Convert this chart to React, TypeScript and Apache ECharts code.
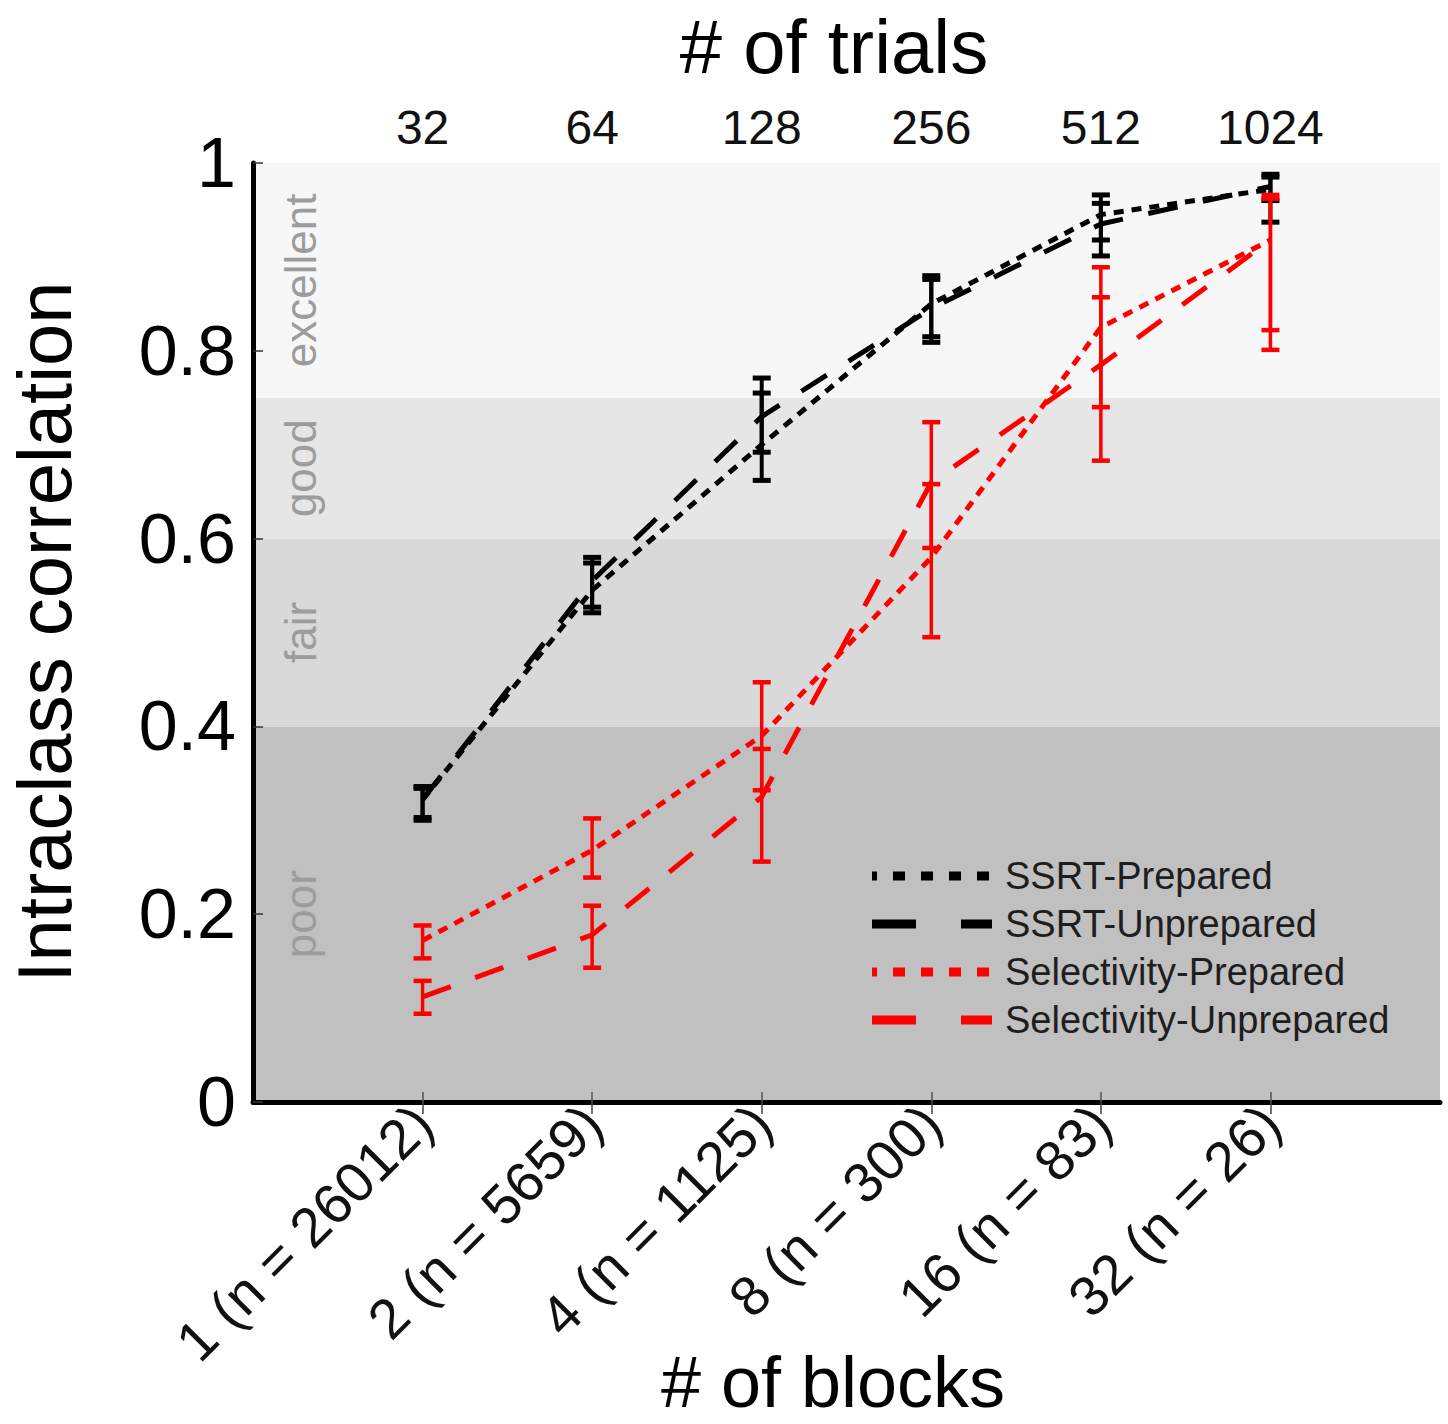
import React, { useEffect, useRef } from "react";
import * as echarts from "echarts";

const FONT = "'Liberation Sans', Arial, Helvetica, sans-serif";

// x positions of the six block conditions (value axis 0..7)
const xPositions = [1, 2, 3, 4, 5, 6];
const blockLabels = ["1 (n = 26012)", "2 (n = 5659)", "4 (n = 1125)", "8 (n = 300)", "16 (n = 83)", "32 (n = 26)"];
const trialLabels = ["32", "64", "128", "256", "512", "1024"];

// Reliability bands
const bandNames = ["poor", "fair", "good", "excellent"];
const bandLows = [0, 0.4, 0.6, 0.75];
const bandHighs = [0.4, 0.6, 0.75, 1];
const bandColors = ["#c0c0c0", "#d9d9d9", "#e6e6e6", "#f7f7f7"];

// Series values (ICC) and error-bar bounds
const ssrtPrepared = [0.322, 0.545, 0.700, 0.850, 0.945, 0.972];
const ssrtPreparedLow = [0.300, 0.521, 0.662, 0.809, 0.918, 0.960];
const ssrtPreparedHigh = [0.334, 0.574, 0.755, 0.876, 0.966, 0.988];

const ssrtUnprepared = [0.322, 0.555, 0.730, 0.845, 0.935, 0.975];
const ssrtUnpreparedLow = [0.303, 0.527, 0.692, 0.815, 0.901, 0.937];
const ssrtUnpreparedHigh = [0.336, 0.580, 0.771, 0.880, 0.957, 0.985];

const selPrepared = [0.172, 0.268, 0.390, 0.580, 0.825, 0.918];
const selPreparedLow = [0.153, 0.239, 0.332, 0.495, 0.740, 0.822];
const selPreparedHigh = [0.188, 0.302, 0.447, 0.658, 0.889, 0.966];

const selUnprepared = [0.112, 0.178, 0.325, 0.660, 0.785, 0.918];
const selUnpreparedLow = [0.094, 0.143, 0.256, 0.590, 0.683, 0.801];
const selUnpreparedHigh = [0.129, 0.209, 0.376, 0.724, 0.857, 0.962];

const seriesNames = ["SSRT-Prepared", "SSRT-Unprepared", "Selectivity-Prepared", "Selectivity-Unprepared"];
const seriesColors = ["#000000", "#000000", "#ff0000", "#ff0000"];

const DOTTED = [10, 8];
const DASHED = [30, 26];

function lineSeries(name: string, vals: number[], color: string, dash: number[], z: number) {
  return {
    type: "line",
    name,
    data: xPositions.map((x, i) => [x, vals[i]]),
    symbol: "none",
    z,
    lineStyle: { color, width: 5, type: dash, cap: "butt" },
    silent: true,
  };
}

function errorSeries(name: string, lo: number[], hi: number[], color: string, width: number, z: number) {
  return {
    type: "custom",
    name: name + " CI",
    z,
    silent: true,
    encode: { x: 0, y: [1, 2] },
    data: xPositions.map((x, i) => [x, lo[i], hi[i]]),
    renderItem: (params: any, api: any) => {
      const x = api.value(0);
      const pLo = api.coord([x, api.value(1)]);
      const pHi = api.coord([x, api.value(2)]);
      const hw = 9;
      const style = { stroke: color, lineWidth: width };
      return {
        type: "group",
        children: [
          { type: "line", shape: { x1: pLo[0], y1: pLo[1], x2: pHi[0], y2: pHi[1] }, style: { stroke: color, lineWidth: width - 1 } },
          { type: "line", shape: { x1: pLo[0] - hw, y1: pLo[1], x2: pLo[0] + hw, y2: pLo[1] }, style },
          { type: "line", shape: { x1: pHi[0] - hw, y1: pHi[1], x2: pHi[0] + hw, y2: pHi[1] }, style },
        ],
      };
    },
  };
}

const legendDashes = [[12, 16], [44, 45], [12, 16], [44, 45]];
const legendOffsets = [7, 0, 7, 0];

export default function App() {
  const ref = useRef<HTMLDivElement>(null);
  useEffect(() => {
    document.body.style.margin = "0";
    const chart = echarts.init(ref.current as HTMLDivElement, null, { renderer: "svg" });

    const legendGraphics: any[] = [];
    seriesNames.forEach((n, i) => {
      const y = 876 + i * 48;
      legendGraphics.push({
        type: "line",
        z: 100,
        shape: { x1: 872, y1: y, x2: 992, y2: y },
        style: { stroke: seriesColors[i], lineWidth: 9, lineDash: legendDashes[i], lineDashOffset: legendOffsets[i] },
      });
      legendGraphics.push({
        type: "text",
        z: 100,
        x: 1005,
        y,
        style: { text: n, font: `38px ${FONT}`, fill: "#1e1e1e", align: "left", verticalAlign: "middle" },
      });
    });

    const option: any = {
      animation: false,
      backgroundColor: "#ffffff",
      grid: { left: 253, right: 8, top: 163, bottom: 322, containLabel: false, outerBoundsMode: "none" },
      xAxis: [
        {
          type: "value",
          position: "bottom",
          min: 0,
          max: 7,
          interval: 1,
          axisLine: { show: true, onZero: false, lineStyle: { color: "#000", width: 5 } },
          axisTick: { show: true, inside: true, length: 10, customValues: xPositions, lineStyle: { color: "#555", width: 1.5 } },
          axisLabel: {
            show: true,
            customValues: xPositions,
            rotate: 45,
            margin: 12,
            fontSize: 56,
            fontFamily: FONT,
            color: "#111",
            formatter: (v: number) => blockLabels[xPositions.indexOf(v)] ?? "",
          },
          splitLine: { show: false },
        },
        {
          type: "value",
          position: "top",
          min: 0,
          max: 7,
          interval: 1,
          axisLine: { show: false },
          axisTick: { show: true, inside: true, length: 12, customValues: xPositions, lineStyle: { color: "#444", width: 1.5 } },
          axisLabel: {
            show: true,
            customValues: xPositions,
            margin: 12,
            fontSize: 48,
            fontFamily: FONT,
            color: "#111",
            formatter: (v: number) => trialLabels[xPositions.indexOf(v)] ?? "",
          },
          splitLine: { show: false },
        },
      ],
      yAxis: {
        type: "value",
        min: 0,
        max: 1,
        interval: 0.2,
        axisLine: { show: true, onZero: false, lineStyle: { color: "#000", width: 5 } },
        axisTick: { show: true, inside: true, length: 10, lineStyle: { color: "#333", width: 1.5 } },
        axisLabel: {
          margin: 17,
          fontSize: 70,
          fontFamily: FONT,
          color: "#000",
          formatter: (v: number) => String(+v.toFixed(1)),
        },
        splitLine: { show: false },
      },
      graphic: [
        {
          type: "text",
          x: 834,
          y: 46,
          style: { text: "# of trials", font: `76px ${FONT}`, fill: "#000", align: "center", verticalAlign: "middle" },
        },
        {
          type: "text",
          x: 833,
          y: 1382,
          style: { text: "# of blocks", font: `72px ${FONT}`, fill: "#000", align: "center", verticalAlign: "middle" },
        },
        {
          type: "text",
          x: 44,
          y: 632,
          rotation: Math.PI / 2,
          style: { text: "Intraclass correlation", font: `76px ${FONT}`, fill: "#000", align: "center", verticalAlign: "middle" },
        },
        ...legendGraphics,
      ],
      series: [
        {
          type: "custom",
          name: "bands",
          z: 0,
          silent: true,
          encode: { x: 2, y: [0, 1] },
          data: bandNames.map((n, i) => [bandLows[i], bandHighs[i], 0]),
          renderItem: (params: any, api: any) => {
            const i = params.dataIndex;
            const lo = api.value(0);
            const hi = api.value(1);
            const p1 = api.coord([0, hi]);
            const p2 = api.coord([7, lo]);
            const pt = api.coord([0.28, (lo + hi) / 2]);
            return {
              type: "group",
              children: [
                {
                  type: "rect",
                  shape: { x: p1[0], y: p1[1], width: p2[0] - p1[0], height: p2[1] - p1[1] },
                  style: { fill: bandColors[i] },
                },
                {
                  type: "text",
                  x: pt[0],
                  y: pt[1],
                  rotation: Math.PI / 2,
                  style: {
                    text: bandNames[i],
                    font: `44px ${FONT}`,
                    fill: "#9c9c9c",
                    align: "center",
                    verticalAlign: "middle",
                  },
                },
              ],
            };
          },
        },
        errorSeries(seriesNames[0], ssrtPreparedLow, ssrtPreparedHigh, "#000", 5, 5),
        errorSeries(seriesNames[1], ssrtUnpreparedLow, ssrtUnpreparedHigh, "#000", 5, 5),
        errorSeries(seriesNames[2], selPreparedLow, selPreparedHigh, "#ff0000", 4.5, 5),
        errorSeries(seriesNames[3], selUnpreparedLow, selUnpreparedHigh, "#ff0000", 4.5, 5),
        lineSeries(seriesNames[0], ssrtPrepared, "#000", DOTTED, 10),
        lineSeries(seriesNames[1], ssrtUnprepared, "#000", DASHED, 10),
        lineSeries(seriesNames[2], selPrepared, "#ff0000", DOTTED, 10),
        lineSeries(seriesNames[3], selUnprepared, "#ff0000", DASHED, 10),
      ],
    };

    chart.setOption(option);
    return () => chart.dispose();
  }, []);
  return <div ref={ref} style={{ width: 1448, height: 1424 }} />;
}
